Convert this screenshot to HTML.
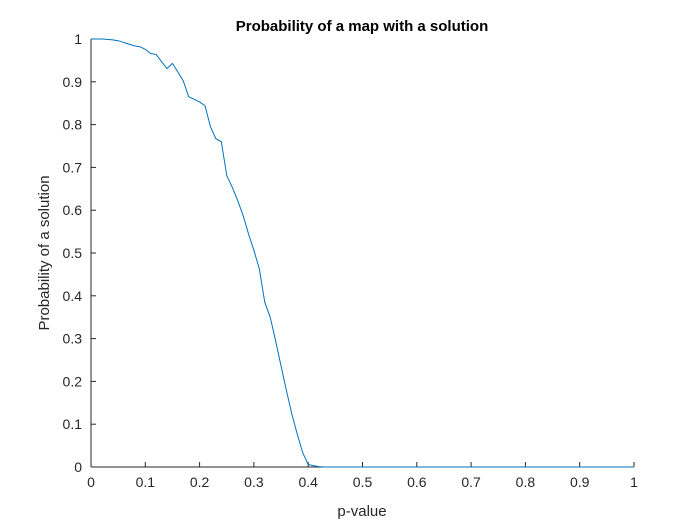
<!DOCTYPE html>
<html><head><meta charset="utf-8"><style>body{margin:0;background:#fff}svg{display:block}</style></head>
<body>
<svg id="chart" width="700" height="525" xmlns="http://www.w3.org/2000/svg" font-family="Liberation Sans, Arial, sans-serif">
<rect width="700" height="525" fill="#fff"/>
<text x="362" y="31" text-anchor="middle" font-size="15" font-weight="bold">Probability of a map with a solution</text>
<text x="362" y="516" text-anchor="middle" font-size="15" fill="#262626">p-value</text>
<text transform="translate(49,253) rotate(-90)" text-anchor="middle" font-size="15" fill="#262626">Probability of a solution</text>
<g id="axes"></g>
<path id="line" fill="none" stroke="#0072BD" stroke-width="1"/>
</svg>
<script>
const xTicks=[0,0.1,0.2,0.3,0.4,0.5,0.6,0.7,0.8,0.9,1];
const xTickLabels=["0","0.1","0.2","0.3","0.4","0.5","0.6","0.7","0.8","0.9","1"];
const yTicks=[0,0.1,0.2,0.3,0.4,0.5,0.6,0.7,0.8,0.9,1];
const yTickLabels=["0","0.1","0.2","0.3","0.4","0.5","0.6","0.7","0.8","0.9","1"];
const pValues=[0,0.01,0.02,0.03,0.04,0.05,0.06,0.07,0.08,0.09,0.10,0.11,0.12,0.13,0.14,0.15,0.16,0.17,0.18,0.19,0.20,0.21,0.22,0.23,0.24,0.25,0.26,0.27,0.28,0.29,0.30,0.31,0.32,0.33,0.34,0.35,0.36,0.37,0.38,0.39,0.40,0.41,0.42,0.43,0.44,0.45,0.46,0.47,0.48,0.49,0.50,0.51,0.52,0.53,0.54,0.55,0.56,0.57,0.58,0.59,0.60,0.61,0.62,0.63,0.64,0.65,0.66,0.67,0.68,0.69,0.70,0.71,0.72,0.73,0.74,0.75,0.76,0.77,0.78,0.79,0.80,0.81,0.82,0.83,0.84,0.85,0.86,0.87,0.88,0.89,0.90,0.91,0.92,0.93,0.94,0.95,0.96,0.97,0.98,0.99,1.00];
const probability=[1,1,1,0.999,0.998,0.996,0.992,0.988,0.984,0.982,0.976,0.966,0.964,0.947,0.931,0.943,0.923,0.902,0.865,0.859,0.853,0.844,0.795,0.767,0.760,0.681,0.654,0.623,0.588,0.545,0.506,0.463,0.385,0.350,0.295,0.236,0.178,0.123,0.076,0.033,0.006,0.003,0.001,0,0,0,0,0,0,0,0,0,0,0,0,0,0,0,0,0,0,0,0,0,0,0,0,0,0,0,0,0,0,0,0,0,0,0,0,0,0,0,0,0,0,0,0,0,0,0,0,0,0,0,0,0,0,0,0,0,0];
const L=91,R=634,T=39,B=467;
const sx=v=>L+(R-L)*v, sy=v=>B-(B-T)*v;
const NS="http://www.w3.org/2000/svg";
const ax=document.getElementById('axes');
function mk(tag,attrs,txt){const e=document.createElementNS(NS,tag);for(const k in attrs)e.setAttribute(k,attrs[k]);if(txt!=null)e.textContent=txt;ax.appendChild(e);return e;}
let e=mk('line',{x1:L,y1:B,x2:R,y2:B,stroke:'#262626'});


e=mk('line',{x1:L,y1:B,x2:L,y2:T,stroke:'#262626'});


xTicks.forEach((v,i)=>{
  const t=mk('line',{x1:sx(v),y1:B,x2:sx(v),y2:B-5,stroke:'#262626'});
  
  
  const l=mk('text',{x:sx(v),y:B+20,'text-anchor':'middle','font-size':14,fill:'#262626'},xTickLabels[i]);
  
  
});
yTicks.forEach((v,i)=>{
  const t=mk('line',{x1:L,y1:sy(v),x2:L+5,y2:sy(v),stroke:'#262626'});
  
  
  const l=mk('text',{x:L-9,y:sy(v)+5,'text-anchor':'end','font-size':14,fill:'#262626'},yTickLabels[i]);
  
  
});
document.getElementById('line').setAttribute('d',pValues.map((p,i)=>(i?'L':'M')+sx(p).toFixed(2)+','+sy(probability[i]).toFixed(2)).join(''));
</script>
</body></html>
